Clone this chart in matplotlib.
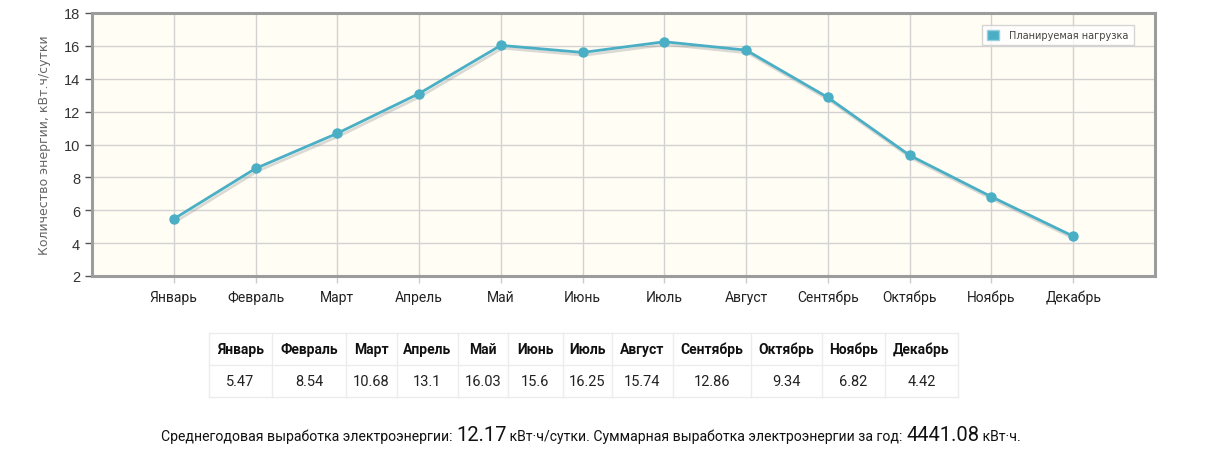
import matplotlib
matplotlib.use("Agg")
import matplotlib.pyplot as plt
import matplotlib.patheffects as pe
from matplotlib.lines import Line2D
from matplotlib.patches import Patch

# Data
months = ["Январь", "Февраль", "Март", "Апрель", "Май", "Июнь",
          "Июль", "Август", "Сентябрь", "Октябрь", "Ноябрь", "Декабрь"]
load = [5.47, 8.54, 10.68, 13.1, 16.03, 15.6, 16.25, 15.74, 12.86, 9.34, 6.82, 4.42]
load_labels = ["5.47", "8.54", "10.68", "13.1", "16.03", "15.6",
               "16.25", "15.74", "12.86", "9.34", "6.82", "4.42"]
y_ticks = [2, 4, 6, 8, 10, 12, 14, 16, 18]
avg_value = "12.17"
total_value = "4441.08"

LINE = "#4aafc5"
W, H = 1215, 460

fig = plt.figure(figsize=(W / 100, H / 100), dpi=100)
fig.patch.set_facecolor("white")

# Chart area
ax = fig.add_axes([92 / W, (H - 277) / H, (1155 - 92) / W, (277 - 14) / H])
ax.set_facecolor("#fffdf4")
x = list(range(len(months)))
# line with soft shadow, markers drawn on top without shadow
ax.plot(x, load, color=LINE, lw=2, zorder=3,
        path_effects=[pe.SimpleLineShadow(offset=(1.2, -2), shadow_color="#888888", alpha=0.3),
                      pe.Normal()])
ax.plot(x, load, color=LINE, lw=0, marker="o", ms=6.5, zorder=4)
ax.set_xlim(-1, 12)
ax.set_ylim(2, 18)
ax.set_yticks(y_ticks)
ax.set_xticks(x)
ax.set_xticklabels(months, fontsize=10, family="Roboto", color="#222222")
ax.tick_params(axis="y", labelsize=10.5, colors="#555555", length=5, width=1, labelcolor="#333333")
ax.tick_params(axis="x", colors="#cccccc", length=5, width=1, labelcolor="#222222", pad=5)
for lab in ax.get_yticklabels():
    lab.set_family(["Liberation Sans", "DejaVu Sans"])
ax.grid(True, color="#d2d2d2", lw=1)
ax.set_axisbelow(True)
for s in ax.spines.values():
    s.set_color("#9c9c9c")
    s.set_linewidth(2.2)
ax.set_ylabel("Количество энергии, кВт.ч/сутки", fontsize=9, color="#666666",
              family="DejaVu Sans", labelpad=9)

leg = ax.legend(handles=[Patch(facecolor=LINE, edgecolor="#9ad0dc", label="Планируемая нагрузка")],
                loc="upper right", bbox_to_anchor=(0.9845, 0.972), frameon=True,
                fancybox=False, handlelength=1.2, handleheight=1.2, borderpad=0.5,
                handletextpad=1.1, prop={"family": "DejaVu Sans", "size": 7})
leg.get_frame().set_edgecolor("#cccccc")
leg.get_frame().set_facecolor("white")
leg.get_frame().set_linewidth(1)
for t in leg.get_texts():
    t.set_color("#444444")

# Table below the chart
col_edges = [209, 272, 346, 397, 458, 508, 563, 612, 673, 751, 822, 885, 958]
row_edges = [334, 366, 398]
grid_col = "#ececec"
for xe in col_edges:
    fig.add_artist(Line2D([xe / W, xe / W], [1 - row_edges[0] / H, 1 - row_edges[-1] / H],
                          color=grid_col, lw=1))
for ye in row_edges:
    fig.add_artist(Line2D([col_edges[0] / W, col_edges[-1] / W], [1 - ye / H, 1 - ye / H],
                          color=grid_col, lw=1))
for i, (m, v) in enumerate(zip(months, load_labels)):
    cx = (col_edges[i] + col_edges[i + 1]) / 2 / W
    fig.text(cx, 1 - (row_edges[0] + row_edges[1]) / 2 / H, m, ha="center", va="center",
             fontsize=10, fontweight="bold", family="Roboto", color="#111111")
    fig.text(cx, 1 - (row_edges[1] + row_edges[2]) / 2 / H, v, ha="center", va="center",
             fontsize=10.5, family="Roboto", color="#222222")

# Summary line with mixed font sizes
pieces = [("Среднегодовая выработка электроэнергии: ", 10.1),
          (avg_value, 14.5),
          (" кВт·ч/сутки. Суммарная выработка электроэнергии за год: ", 10.1),
          (total_value, 14.5),
          (" кВт·ч.", 10.1)]
renderer = fig.canvas.get_renderer()
texts = []
for s, size in pieces:
    t = fig.text(0, 1 - 441 / H, s, fontsize=size, family="Roboto", color="#111111",
                 ha="left", va="baseline")
    texts.append(t)
widths = [t.get_window_extent(renderer).width for t in texts]
xpos = (591 - sum(widths) / 2)
for t, w in zip(texts, widths):
    t.set_x(xpos / W)
    xpos += w

fig.savefig("out.png", dpi=100)
